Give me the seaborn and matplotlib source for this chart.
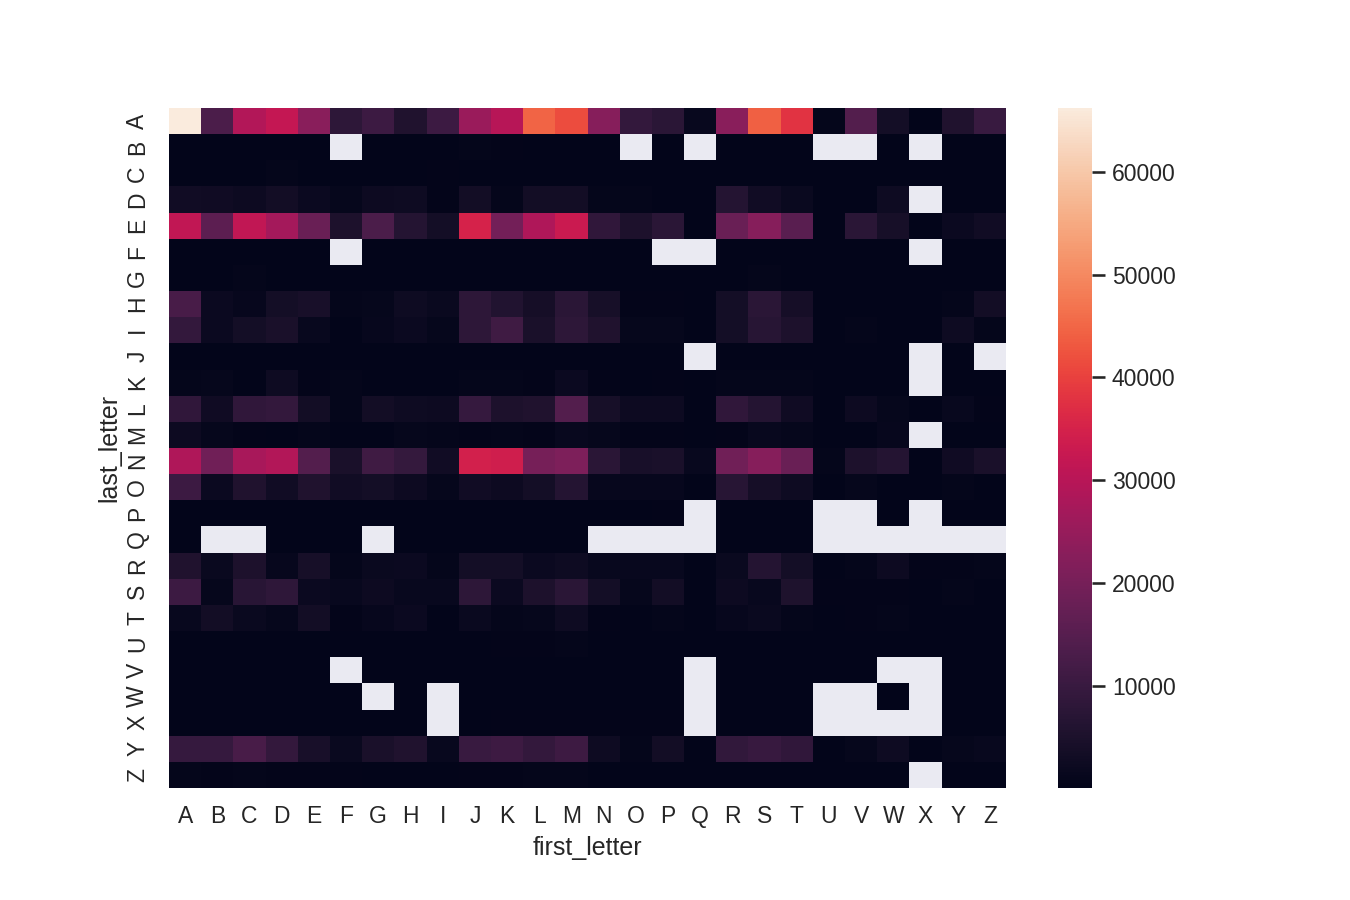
import matplotlib
matplotlib.use('Agg')
import matplotlib.pyplot as plt
import seaborn as sns
import numpy as np
import pandas as pd

nan = np.nan
letters = list("ABCDEFGHIJKLMNOPQRSTUVWXYZ")

# name counts: one list per last letter, columns are first letters A..Z
last_A = [66200, 13000, 29000, 32000, 23000, 8000, 10500, 5500, 10500, 25500, 30000, 44500, 41500,
          22500, 9000, 7500, 1500, 23000, 44000, 38000, 800, 14500, 3500, 300, 5500, 10000]
last_B = [200, 150, 200, 250, 200, nan, 250, 200, 250, 700, 400, 300, 300,
          200, nan, 200, nan, 200, 200, 200, nan, nan, 200, nan, 200, 200]
last_C = [200, 150, 200, 800, 300, 300, 300, 300, 400, 300, 300, 300, 300,
          300, 250, 250, 200, 250, 250, 250, 200, 200, 200, 200, 200, 200]
last_D = [3000, 2800, 2200, 3200, 2000, 900, 2300, 2500, 400, 3200, 800, 3200, 3200,
          700, 700, 300, 300, 6500, 3000, 1700, 300, 300, 2400, nan, 200, 200]
last_E = [31500, 16000, 31500, 27000, 18000, 5200, 13000, 6500, 3500, 35000, 19500, 28500, 33000,
          8500, 5000, 7500, 300, 18000, 22500, 15500, 200, 7500, 4000, 100, 2000, 3000]
last_F = [200, 200, 250, 200, 200, nan, 250, 250, 250, 200, 250, 250, 250,
          200, 200, nan, nan, 250, 250, 250, 200, 200, 200, nan, 300, 300]
last_G = [200, 200, 700, 250, 250, 250, 250, 250, 250, 250, 300, 300, 300,
          300, 300, 300, 250, 300, 600, 300, 250, 250, 250, 250, 250, 250]
last_H = [12500, 1900, 1300, 3600, 4200, 600, 900, 2500, 1700, 8000, 5800, 3800, 7300,
          4000, 400, 400, 200, 3500, 7500, 3800, 200, 200, 200, 200, 600, 3200]
last_I = [9000, 1900, 3600, 4500, 1600, 300, 1300, 2100, 900, 8000, 11000, 4500, 8000,
          5500, 1000, 1000, 300, 3600, 6800, 5200, 300, 800, 300, 300, 2500, 800]
last_J = [250, 250, 250, 250, 250, 250, 250, 250, 250, 250, 250, 250, 250,
          250, 250, 250, nan, 250, 250, 250, 250, 250, 250, nan, 250, nan]
last_K = [600, 1000, 300, 2400, 400, 800, 300, 300, 300, 600, 800, 400, 2000,
          400, 300, 500, 300, 800, 700, 600, 300, 300, 300, nan, 300, 300]
last_L = [8500, 2800, 8500, 9000, 3200, 600, 3200, 2500, 2300, 9500, 5000, 5500, 14500,
          4000, 2300, 2300, 300, 8500, 6500, 2800, 300, 2200, 1000, 80, 1600, 400]
last_M = [2200, 900, 500, 200, 600, 300, 300, 900, 700, 500, 800, 400, 1400,
          1000, 400, 400, 300, 500, 1400, 1000, 300, 300, 1300, nan, 300, 300]
last_N = [28500, 19000, 27500, 29000, 14500, 4600, 11000, 9300, 3000, 34500, 34000, 20000, 21000,
          7500, 4200, 4500, 1600, 19000, 22500, 18000, 600, 5000, 6500, 300, 2800, 4500]
last_O = [10500, 2000, 5500, 3000, 5600, 3000, 3500, 2200, 1000, 3000, 2200, 3500, 6500,
          1300, 1300, 1300, 300, 7000, 3800, 2400, 300, 900, 300, 300, 800, 300]
last_P = [200, 200, 200, 200, 200, 200, 200, 200, 200, 200, 200, 200, 200,
          300, 300, 400, nan, 200, 200, 200, nan, nan, 300, nan, 200, 200]
last_Q = [300, nan, nan, 200, 200, 200, nan, 200, 200, 200, 200, 200, 200,
          nan, nan, nan, nan, 200, 200, 200, nan, nan, nan, nan, nan, nan]
last_R = [5500, 1800, 5000, 1300, 4000, 600, 1800, 2100, 600, 3600, 3600, 2000, 2600,
          1500, 1500, 1500, 300, 1700, 6500, 3600, 300, 800, 2200, 400, 400, 800]
last_S = [10500, 1000, 7200, 8300, 2100, 1600, 2200, 1400, 1400, 8000, 2000, 5000, 7300,
          3600, 1000, 3300, 300, 2200, 1600, 5400, 400, 500, 500, 300, 600, 300]
last_T = [1600, 3200, 1800, 900, 3200, 500, 1300, 1900, 200, 1800, 800, 1000, 2600,
          500, 300, 600, 300, 1200, 1700, 800, 300, 500, 700, 300, 300, 300]
last_U = [300, 300, 300, 300, 300, 300, 300, 300, 300, 300, 400, 500, 600,
          300, 300, 300, 250, 250, 250, 250, 250, 250, 250, 250, 250, 250]
last_V = [200, 200, 200, 200, 200, nan, 250, 250, 250, 250, 250, 250, 300,
          300, 300, 300, nan, 200, 200, 200, 200, 200, nan, nan, 200, 200]
last_W = [200, 200, 200, 200, 200, 200, nan, 200, nan, 300, 300, 300, 300,
          300, 300, 300, nan, 200, 200, 200, nan, nan, 60, nan, 200, 200]
last_X = [300, 300, 300, 300, 300, 300, 300, 300, nan, 300, 400, 500, 500,
          400, 400, 400, nan, 200, 200, 200, nan, nan, nan, nan, 200, 200]
last_Y = [9500, 9500, 12500, 9000, 4200, 1800, 4500, 5600, 1600, 10000, 10800, 9000, 10800,
          2400, 600, 3200, 300, 8700, 9800, 8500, 300, 1000, 2500, 100, 900, 1500]
last_Z = [800, 500, 700, 400, 500, 500, 300, 300, 300, 400, 400, 600, 700,
          300, 300, 300, 300, 300, 300, 300, 300, 300, 300, nan, 200, 200]

rows = [last_A, last_B, last_C, last_D, last_E, last_F, last_G, last_H, last_I,
        last_J, last_K, last_L, last_M, last_N, last_O, last_P, last_Q, last_R,
        last_S, last_T, last_U, last_V, last_W, last_X, last_Y, last_Z]

df = pd.DataFrame(rows, index=pd.Index(letters, name='last_letter'),
                  columns=pd.Index(letters, name='first_letter'))

sns.set_theme()
plt.rcParams['font.family'] = ['Liberation Sans', 'DejaVu Sans']

fig = plt.figure(figsize=(9, 6), dpi=150)
W, H = 1350, 900
ax = fig.add_axes([169 / W, (H - 788) / H, 837 / W, 680 / H])
cax = fig.add_axes([1058 / W, (H - 788) / H, 34 / W, 680 / H])

sns.heatmap(df, ax=ax, cbar_ax=cax)
ax.grid(False)
ax.tick_params(axis='x', pad=2.0)
ax.yaxis.labelpad = 2.5

fig.savefig('out.png', dpi=150)
plt.close()
